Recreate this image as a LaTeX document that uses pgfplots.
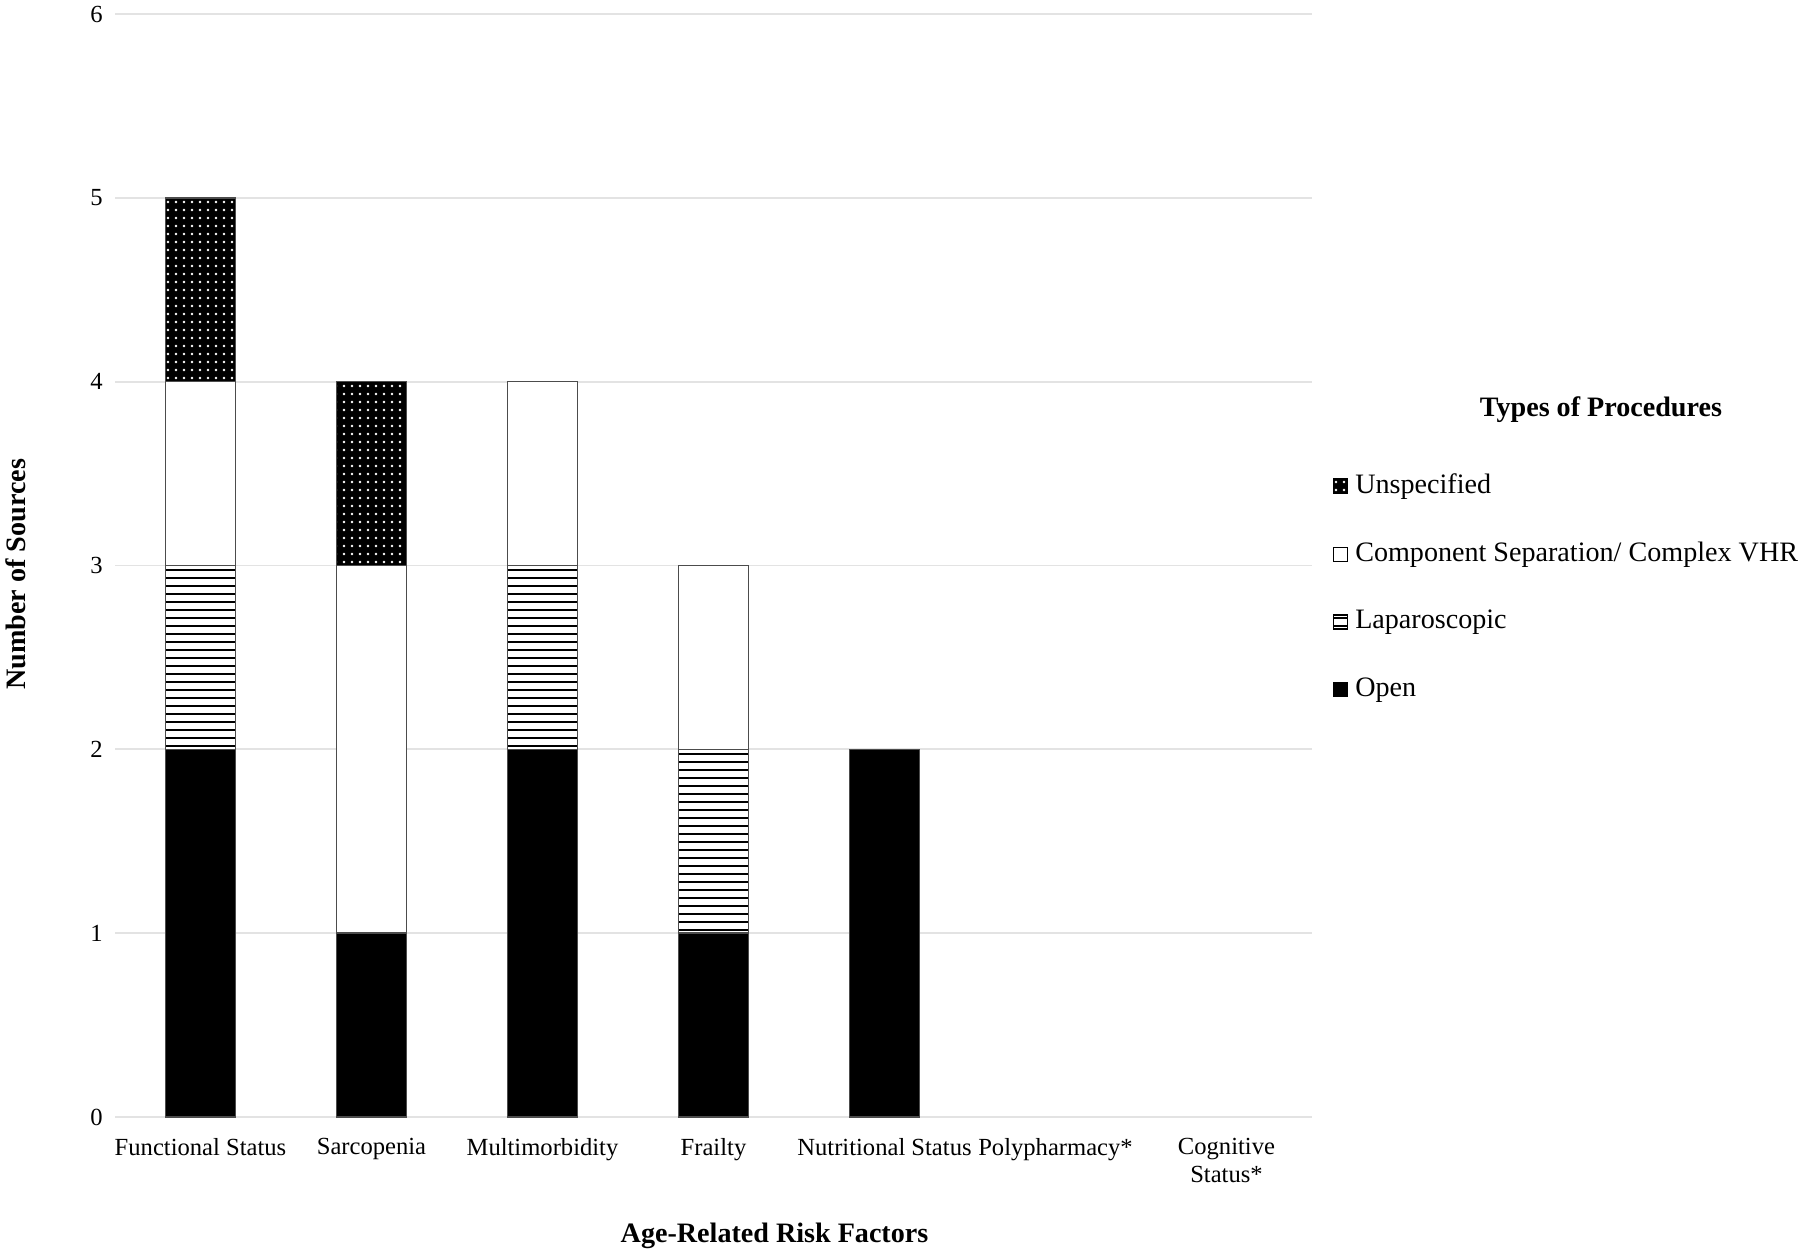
\documentclass[border=0pt]{standalone}
\usepackage{fontspec}
\setmainfont{Liberation Serif}
\usepackage{pgfplots}
\pgfplotsset{compat=1.18}
\usetikzlibrary{patterns.meta}

\pgfplotsset{
  sqlegend/.style={legend image code/.code={
    \draw[##1,draw=black,line width=0.4pt] (0cm,-0.07cm) rectangle (0.14cm,0.07cm);}},
}

\begin{document}
\begin{tikzpicture}
\useasboundingbox (-1.15cm,-1.41cm) rectangle (16.85cm,11.17cm);
\begin{axis}[
  scale only axis,
  width=11.97cm, height=11.03cm,
  clip=false,
  ybar stacked,
  bar width=7mm,
  xmin=-0.5, xmax=6.5,
  ymin=0, ymax=6,
  ytick={0,1,2,3,4,5,6},
  xtick=data,
  xticklabels={Functional Status,Sarcopenia,Multimorbidity,Frailty,Nutritional Status,Polypharmacy*,{Cognitive\\Status*}},
  xticklabel style={align=center, font=\fontsize{7}{8}\selectfont, yshift=-0.9mm},
  yticklabel style={font=\fontsize{7}{8}\selectfont},
  /pgf/number format/assume math mode=true,
  axis line style={draw=none},
  major tick length=0pt,
  ymajorgrids,
  grid style={draw=gray!22, line width=0.5pt},
  xlabel={\textbf{Age-Related Risk Factors}},
  ylabel={\textbf{Number of Sources}},
  xlabel style={at={(axis description cs:0.551,-0.1079)}, anchor=center, font=\fontsize{8}{9}\selectfont},
  ylabel style={at={(axis description cs:-0.0827,0.492)}, anchor=center, font=\fontsize{8}{9}\selectfont},
  sqlegend,
  reverse legend,
  legend cell align=left,
  legend style={at={(rel axis cs:1.008,0.597)}, anchor=north west, draw=none, fill=none,
    font=\fontsize{8}{9}\selectfont, row sep=2.95mm,
    /tikz/every even column/.append style={column sep=0.3mm}},
]
% Open
\addplot[fill=black, draw=black!70, line width=0.4pt] coordinates
  {(0,2) (1,1) (2,2) (3,1) (4,2) (5,0) (6,0)};
% Laparoscopic
\addplot[fill=white, draw=black!70, line width=0.4pt,
  postaction={pattern={Lines[angle=0,distance=0.8mm,line width=0.45pt]}, pattern color=black}] coordinates
  {(0,1) (1,0) (2,1) (3,1) (4,0) (5,0) (6,0)};
% Component separation
\addplot[fill=white, draw=black!70, line width=0.4pt] coordinates
  {(0,1) (1,2) (2,1) (3,1) (4,0) (5,0) (6,0)};
% Unspecified
\addplot[fill=black, draw=black!70, line width=0.4pt,
  postaction={pattern={Dots[distance=0.8mm,radius=0.36pt]}, pattern color=white}] coordinates
  {(0,1) (1,1) (2,0) (3,0) (4,0) (5,0) (6,0)};
\legend{Open,Laparoscopic,Component Separation/ Complex VHR,Unspecified}
\node[font=\fontsize{8}{9}\selectfont\bfseries, anchor=center] at (rel axis cs:1.2414,0.641) {Types of Procedures};
\end{axis}
\end{tikzpicture}
\end{document}
